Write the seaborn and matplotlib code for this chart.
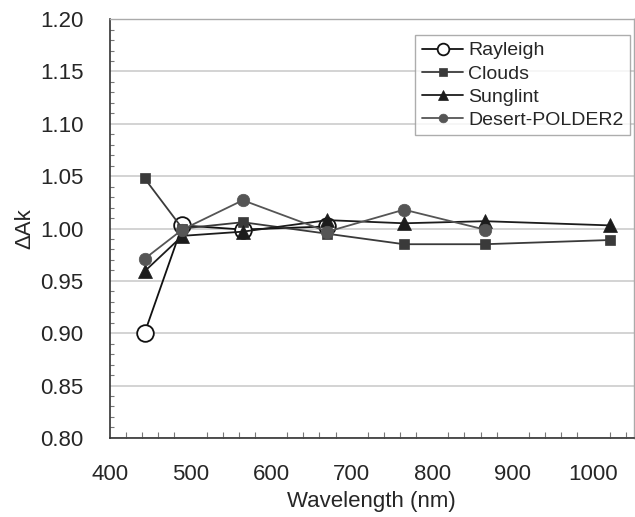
import numpy as np
import pandas as pd
import seaborn as sns
import matplotlib
matplotlib.use("Agg")
from matplotlib import pyplot as plt
from matplotlib.ticker import MultipleLocator

# values
wl_rayleigh = [443, 490, 565, 670]
rayleigh = [0.900, 1.003, 0.999, 1.002]

wl_clouds = [443, 490, 565, 670, 765, 865, 1020]
clouds = [1.048, 1.000, 1.006, 0.995, 0.985, 0.985, 0.989]

wl_sunglint = [443, 490, 565, 670, 765, 865, 1020]
sunglint = [0.959, 0.993, 0.997, 1.008, 1.005, 1.007, 1.003]

wl_desert = [443, 490, 565, 670, 765, 865]
desert = [0.971, 0.999, 1.027, 0.997, 1.018, 0.999]

sns.set_theme(style="white")
plt.rcParams["font.family"] = ["Liberation Sans", "DejaVu Sans"]

fig = plt.figure(figsize=(6.35, 5.17), dpi=100)
ax = fig.add_axes([0.173, 0.153, 0.825, 0.81])

sns.lineplot(x=wl_rayleigh, y=rayleigh, ax=ax, color="#111111", lw=1.3,
             marker="o", markersize=12, markerfacecolor="white",
             markeredgecolor="#111111", markeredgewidth=1.3, label="Rayleigh")
sns.lineplot(x=wl_clouds, y=clouds, ax=ax, color="#3a3a3a", lw=1.3,
             marker="s", markersize=7.5, markeredgecolor="#3a3a3a",
             markeredgewidth=0.5, label="Clouds")
sns.lineplot(x=wl_sunglint, y=sunglint, ax=ax, color="#1c1c1c", lw=1.3,
             marker="^", markersize=10, markeredgecolor="#1c1c1c",
             markeredgewidth=0.5, label="Sunglint")
sns.lineplot(x=wl_desert, y=desert, ax=ax, color="#555555", lw=1.3,
             marker="o", markersize=9, markeredgecolor="#555555",
             markeredgewidth=0.5, label="Desert-POLDER2")

ax.set_xlim(400, 1050)
ax.set_ylim(0.80, 1.20)
ax.xaxis.set_major_locator(MultipleLocator(100))
ax.xaxis.set_minor_locator(MultipleLocator(20))
ax.yaxis.set_major_locator(MultipleLocator(0.05))
ax.yaxis.set_minor_locator(MultipleLocator(0.01))
ax.yaxis.set_major_formatter(matplotlib.ticker.FormatStrFormatter("%.2f"))

ax.grid(axis="y", which="major", color="#cccccc", lw=1.2)
ax.set_axisbelow(True)

for side in ["left", "bottom"]:
    ax.spines[side].set_color("#333333")
    ax.spines[side].set_linewidth(1.2)
for side in ["top", "right"]:
    ax.spines[side].set_color("#aaaaaa")
    ax.spines[side].set_linewidth(1.0)

ax.tick_params(axis="y", which="major", direction="out", length=7, width=1,
               color="#555555", labelsize=16, pad=12, right=True)
ax.tick_params(axis="y", which="minor", direction="in", length=3, width=0.8,
               color="#777777", left=True)
ax.tick_params(axis="x", which="major", direction="inout", length=10, width=1,
               color="#555555", labelsize=16, pad=14)
ax.tick_params(axis="x", which="minor", direction="in", length=4, width=0.8,
               color="#777777", bottom=True)
ax.yaxis.set_tick_params(which="major", right=True)

ax.set_xlabel("Wavelength (nm)", fontsize=16, labelpad=4)
ax.set_ylabel("ΔAk", fontsize=16, labelpad=3)

leg = ax.legend(loc="upper right", bbox_to_anchor=(0.993, 0.962),
                borderaxespad=0, fontsize=14, frameon=True, fancybox=False,
                edgecolor="#999999", handlelength=2.1, handletextpad=0.25,
                labelspacing=0.28, borderpad=0.35, markerscale=0.7)
leg.get_frame().set_linewidth(1.0)

fig.savefig("out.png", dpi=100)
